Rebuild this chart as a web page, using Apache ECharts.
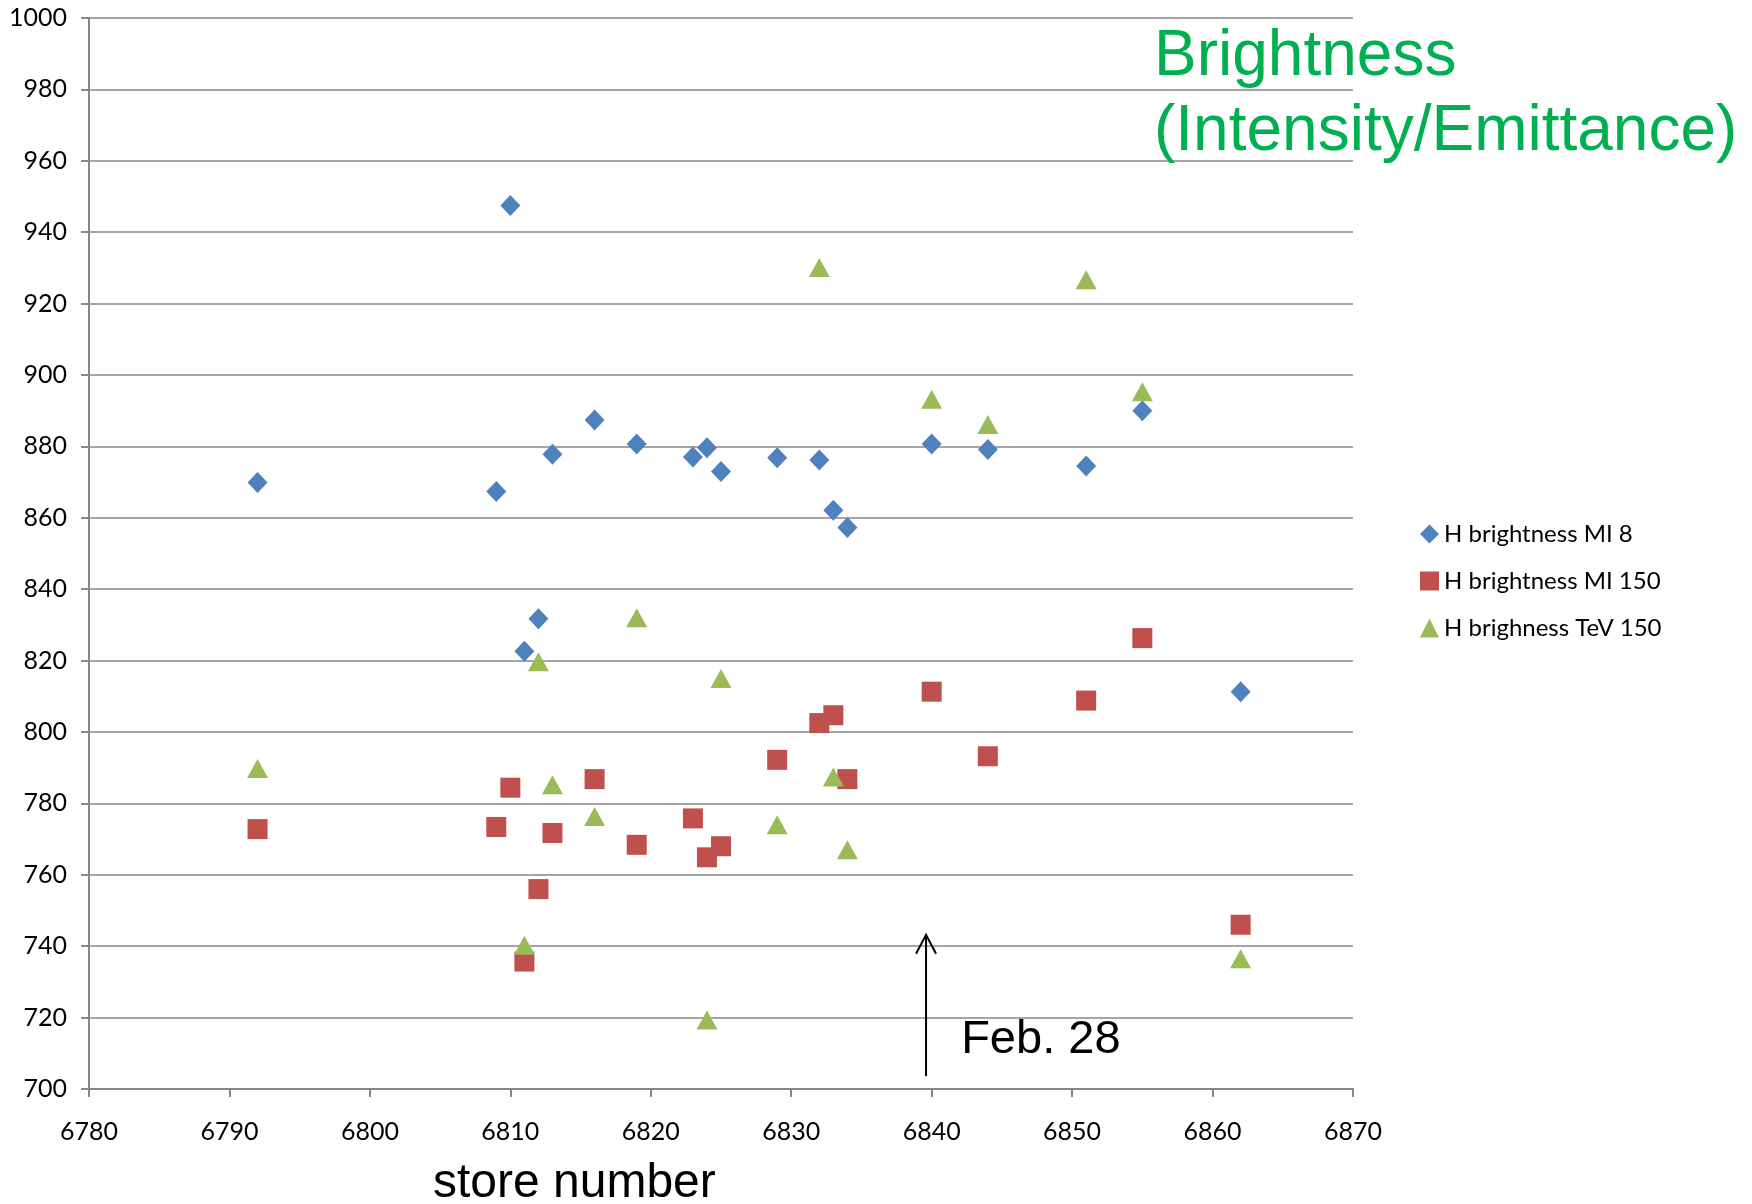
<!DOCTYPE html>
<html>
<head>
<meta charset="utf-8">
<title>H brightness by store</title>
<script src="https://cdn.jsdelivr.net/npm/echarts@6/dist/echarts.min.js"></script>
<style>
  html, body { margin: 0; padding: 0; background: #ffffff; }
  #chart { width: 1752px; height: 1204px; }
</style>
</head>
<body>
<div id="chart"></div>
<script>
// Store numbers with MI measurements
const storesMI = [6792, 6809, 6810, 6811, 6812, 6813, 6816, 6819, 6823, 6824,
                  6825, 6829, 6832, 6833, 6834, 6840, 6844, 6851, 6855, 6862];
// H brightness in the Main Injector at 8 GeV
const hBrightMI8 = [869.9, 867.4, 947.5, 822.6, 831.7, 877.8, 887.4, 880.7, 877.0, 879.6,
                    873.0, 876.8, 876.2, 862.1, 857.3, 880.7, 879.1, 874.5, 890.0, 811.3];
// H brightness in the Main Injector at 150 GeV
const hBrightMI150 = [772.8, 773.4, 784.4, 735.7, 756.0, 771.7, 786.8, 768.4, 775.8, 764.9,
                      768.0, 792.2, 802.5, 804.7, 786.8, 811.3, 793.2, 808.8, 826.3, 746.0];
// Store numbers with Tevatron measurements
const storesTeV = [6792, 6811, 6812, 6813, 6816, 6819, 6824, 6825, 6829, 6832,
                   6833, 6834, 6840, 6844, 6851, 6855, 6862];
// H brightness in the Tevatron at 150 GeV
const hBrighnessTeV150 = [789.8, 740.3, 819.7, 785.2, 776.3, 832.0, 719.3, 815.0, 774.0, 930.1,
                          787.4, 767.0, 893.2, 886.1, 926.7, 895.3, 736.5];

const seriesNames = ['H brightness MI 8', 'H brightness MI 150', 'H brighness TeV 150'];

// Axis ranges
const xMin = 6780, xMax = 6870, xStep = 10;
const yMin = 700, yMax = 1000, yStep = 20;

// Feb. 28 annotation: arrow at a store number, from / to brightness
const arrowStore = 6839.6;
const arrowFrom = 703.6;
const arrowTo = 743.2;
const noteText = 'Feb. 28';
const notePos = [6842.1, 713.8];

const pair = (xs, ys) => xs.map((x, i) => [x, ys[i]]);

const chart = echarts.init(document.getElementById('chart'));
const axisGray = '#878787';
const tickFont = { fontFamily: 'Lato', fontSize: 25, color: '#000000', formatter: v => String(v) };

chart.setOption({
  backgroundColor: '#ffffff',
  animation: false,
  grid: { left: 89, right: 399, top: 18, bottom: 115, containLabel: false },
  xAxis: {
    type: 'value', min: xMin, max: xMax, interval: xStep,
    axisLine: { show: true, lineStyle: { color: axisGray, width: 2 } },
    axisTick: { show: true, inside: false, length: 8, lineStyle: { color: axisGray, width: 2 } },
    axisLabel: Object.assign({ margin: 30 }, tickFont),
    splitLine: { show: false }
  },
  yAxis: {
    type: 'value', min: yMin, max: yMax, interval: yStep,
    axisLine: { show: true, lineStyle: { color: axisGray, width: 2 } },
    axisTick: { show: true, inside: false, length: 8, lineStyle: { color: axisGray, width: 2 } },
    axisLabel: Object.assign({ margin: 22 }, tickFont),
    splitLine: { show: true, lineStyle: { color: axisGray, width: 1.6 } }
  },
  legend: {
    orient: 'vertical', left: 1415, top: 517,
    itemWidth: 19, itemHeight: 19, itemGap: 23,
    textStyle: { fontFamily: 'Lato', fontSize: 24, color: '#000000' },
    data: seriesNames
  },
  series: [
    { name: seriesNames[0], type: 'scatter', symbol: 'diamond', symbolSize: [20, 21],
      itemStyle: { color: '#4F81BD', opacity: 1 }, data: pair(storesMI, hBrightMI8) },
    { name: seriesNames[1], type: 'scatter', symbol: 'rect', symbolSize: 20,
      itemStyle: { color: '#C0504D', opacity: 1 }, data: pair(storesMI, hBrightMI150) },
    { name: seriesNames[2], type: 'scatter', symbol: 'triangle', symbolSize: [21, 19],
      itemStyle: { color: '#9BBB59', opacity: 1 }, data: pair(storesTeV, hBrighnessTeV150) }
  ]
});

// Annotations placed through the grid's own scales
const pBase = chart.convertToPixel({ gridIndex: 0 }, [arrowStore, arrowFrom]);
const pTip = chart.convertToPixel({ gridIndex: 0 }, [arrowStore, arrowTo]);
const pNote = chart.convertToPixel({ gridIndex: 0 }, notePos);

chart.setOption({
  graphic: [
    { type: 'line', shape: { x1: pBase[0], y1: pBase[1], x2: pTip[0], y2: pTip[1] },
      style: { stroke: '#000000', lineWidth: 2 } },
    { type: 'polyline',
      shape: { points: [[pTip[0] - 10, pTip[1] + 19], [pTip[0], pTip[1]], [pTip[0] + 10, pTip[1] + 19]] },
      style: { stroke: '#000000', lineWidth: 2, fill: null } },
    { type: 'text', x: pNote[0], y: pNote[1],
      style: { text: noteText, fill: '#000000', font: '47px "Liberation Sans"',
               align: 'left', verticalAlign: 'middle' } },
    { type: 'text', x: 1154, y: 57,
      style: { text: 'Brightness', fill: '#00B050', font: '64px "Liberation Sans"',
               align: 'left', verticalAlign: 'middle' } },
    { type: 'text', x: 1154, y: 132,
      style: { text: '(Intensity/Emittance)', fill: '#00B050', font: '64px "Liberation Sans"',
               align: 'left', verticalAlign: 'middle' } },
    { type: 'text', x: 433, y: 1184,
      style: { text: 'store number', fill: '#000000', font: '48px "Liberation Sans"',
               align: 'left', verticalAlign: 'middle' } }
  ]
});
</script>
</body>
</html>
